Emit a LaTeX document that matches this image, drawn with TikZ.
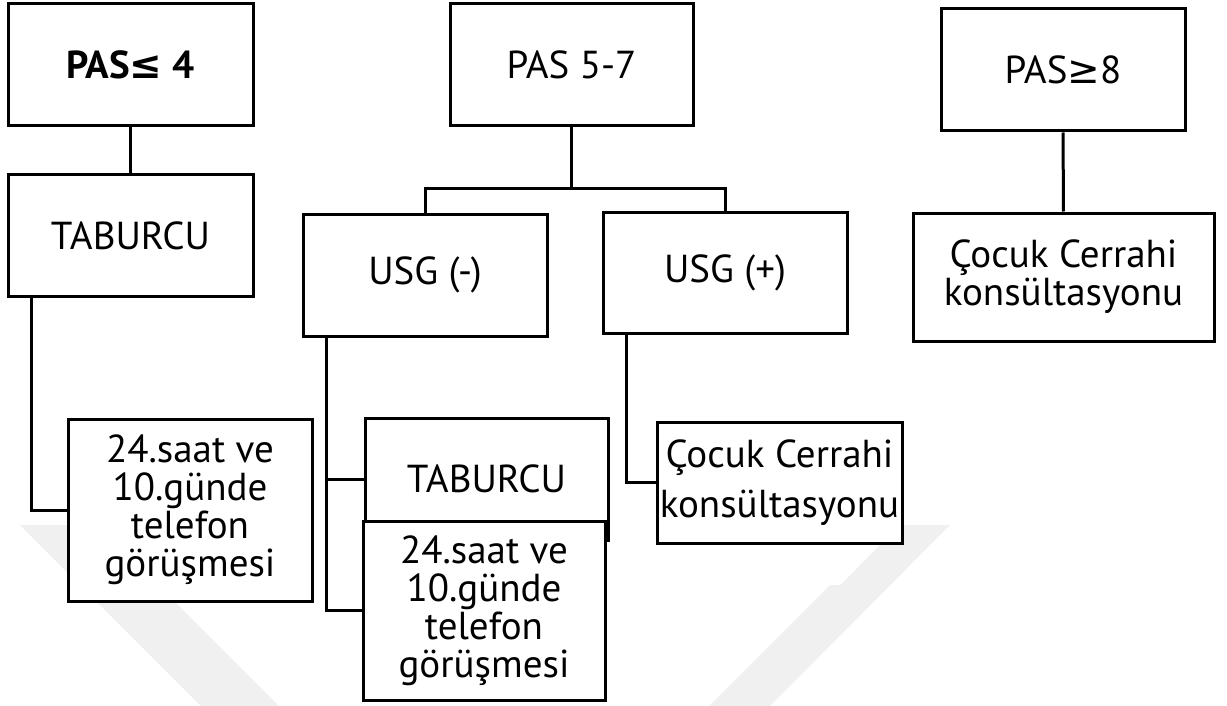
\documentclass[tikz,border=0pt]{standalone}
\usepackage{fontspec}
\setmainfont{PT Sans}
\newfontfamily\simge{DejaVu Sans}
\tikzset{
  kutu/.style={draw, line width=3pt, fill=white, align=center, inner sep=0pt,
    minimum width=244pt, minimum height=122pt, font=\fontsize{39}{38}\selectfont},
  hat/.style={line width=3pt},
  iz/.style={fill=black!6}
}
\begin{document}
\begin{tikzpicture}[x=1pt, y=-1pt]
            \useasboundingbox (0, 0) rectangle (1227, 706);

            % faint watermark behind the chart
            \fill[iz] (20, 525) -- (70, 525) -- (251, 706) -- (201, 706) -- cycle;
            \fill[iz] (900, 525) -- (950, 525) -- (770, 706) -- (720, 706) -- cycle;
            \fill[iz] (95, 565) -- (138, 565) -- (279, 706) -- (236, 706) -- cycle;
            \fill[iz] (830, 585) -- (870, 585) -- (749, 706) -- (709, 706) -- cycle;

            \node[kutu, minimum width=245pt] (pas4) at (130.5, 65) {\bfseries PAS{\simge≤} 4};
            \node[kutu, minimum width=245pt, minimum height=121pt] (tab1) at (130.5, 235.5) {TABURCU};
            \node[kutu, minimum height=182pt] (tel1) at (190, 510) {24.saat ve\\10.günde\\telefon\\görüşmesi};

            \node[kutu, minimum width=243pt] (pas57) at (571.5, 65) {PAS 5-7};
            \node[kutu] (usgneg) at (425, 275) {USG (-)};
            \node[kutu, minimum height=121pt] (usgpos) at (725, 272.5) {USG (+)};
            \node[kutu, minimum width=243pt] (tab2) at (486.5, 479) {TABURCU};
            \node[kutu, minimum width=242pt, minimum height=179pt] (tel2) at (484, 610.5) {24.saat ve\\10.günde\\telefon\\görüşmesi};
            \node[kutu, minimum width=245pt, minimum height=121pt] (cc1) at (779.5, 482.5) {Çocuk Cerrahi\\[12pt]konsültasyonu};

            \node[kutu] (pas8) at (1063, 70) {PAS{\simge≥}8};
            \node[kutu, minimum width=301pt, minimum height=128pt] (cc2) at (1063.5, 277) {Çocuk Cerrahi\\konsültasyonu};

            \coordinate (split) at (571.5, 189);

            \draw[hat] (pas4) -- (tab1);
            \draw[hat] ([xshift=25pt]tab1.south west) |- (tel1.west);

            \draw[hat] (pas57) -- (split);
            \draw[hat] (usgneg.north) |- (split) -| (usgpos.north);
            \draw[hat] ([xshift=25pt]usgneg.south west) |- (tab2.west);
            \draw[hat] ([xshift=25pt]usgneg.south west) |- (tel2.west);
            \draw[hat] ([xshift=25pt]usgpos.south west) |- (cc1.west);

            \draw[hat] (pas8) -- (cc2);
\end{tikzpicture}
\end{document}
